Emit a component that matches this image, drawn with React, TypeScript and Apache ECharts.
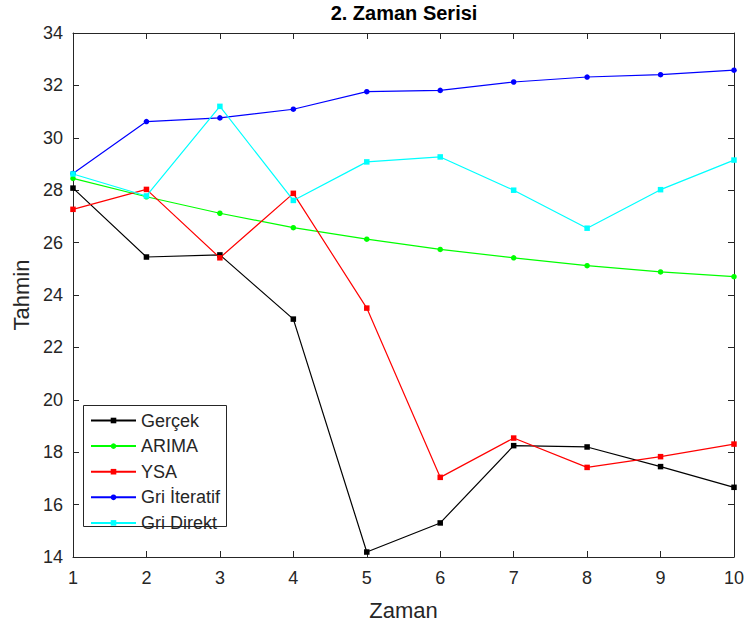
import React, { useEffect, useRef } from "react";
import * as echarts from "echarts";

const xValues = [1, 2, 3, 4, 5, 6, 7, 8, 9, 10];
const gercek = [28.08, 25.45, 25.53, 23.08, 14.19, 15.3, 18.25, 18.2, 17.45, 16.66];
const arima = [28.45, 27.75, 27.12, 26.57, 26.13, 25.74, 25.42, 25.12, 24.88, 24.7];
const ysa = [27.27, 28.03, 25.42, 27.88, 23.5, 17.04, 18.54, 17.42, 17.83, 18.31];
const griIteratif = [28.64, 30.62, 30.76, 31.09, 31.76, 31.81, 32.13, 32.32, 32.41, 32.58];
const griDirekt = [28.62, 27.78, 31.2, 27.61, 29.08, 29.27, 28.0, 26.55, 28.02, 29.15];

const seriesDefs = [
  { name: "Gerçek", data: gercek, color: "#000000", symbol: "rect" },
  { name: "ARIMA", data: arima, color: "#00ff00", symbol: "circle" },
  { name: "YSA", data: ysa, color: "#ff0000", symbol: "rect" },
  { name: "Gri İteratif", data: griIteratif, color: "#0000ff", symbol: "circle" },
  { name: "Gri Direkt", data: griDirekt, color: "#00ffff", symbol: "rect" },
];

const FONT = "'Liberation Sans', Arial, Helvetica, sans-serif";
const AXIS_COLOR = "#262626";

export default function App() {
  const ref = useRef<HTMLDivElement>(null);
  useEffect(() => {
    if (!ref.current) return;
    const chart = echarts.init(ref.current, null, { renderer: "svg" });
    const axisCommon = {
      type: "value",
      axisLine: { show: true, lineStyle: { color: AXIS_COLOR, width: 1 } },
      axisTick: { show: true, inside: true, length: 6, lineStyle: { color: AXIS_COLOR } },
      splitLine: { show: false },
    };
    chart.setOption({
      animation: false,
      backgroundColor: "#ffffff",
      textStyle: { fontFamily: FONT },
      title: {
        text: "2. Zaman Serisi",
        left: 404,
        textAlign: "center",
        top: 3,
        padding: 0,
        textStyle: { fontSize: 20, fontWeight: "bold", color: "#000", fontFamily: FONT },
      },
      graphic: [
        {
          type: "rect",
          shape: { x: 83.5, y: 405.5, width: 143, height: 121 },
          style: { fill: "#ffffff", stroke: "#262626", lineWidth: 1 },
          z: 100,
        },
      ],
      grid: { left: 73, right: 14, top: 33, bottom: 70, containLabel: false },
      legend: {
        orient: "vertical",
        left: 90,
        top: 411.5,
        itemWidth: 45,
        itemHeight: 7,
        itemGap: 7.6,
        padding: 0,
        z: 110,
        textStyle: { fontSize: 18, lineHeight: 18, color: "#262626", fontFamily: FONT },
        data: seriesDefs.map((s) => s.name),
      },
      xAxis: [
        {
          ...axisCommon,
          position: "bottom",
          min: 1,
          max: 10,
          interval: 1,
          name: "Zaman",
          nameLocation: "middle",
          nameGap: 42,
          nameTextStyle: { fontSize: 22, color: "#262626", fontFamily: FONT },
          axisLabel: { fontSize: 18, color: "#262626", margin: 12, fontFamily: FONT },
        },
        {
          ...axisCommon,
          position: "top",
          min: 1,
          max: 10,
          interval: 1,
          axisLabel: { show: false },
        },
      ],
      yAxis: [
        {
          ...axisCommon,
          position: "left",
          min: 14,
          max: 34,
          interval: 2,
          name: "Tahmin",
          nameLocation: "middle",
          nameGap: 40,
          nameTextStyle: { fontSize: 22, color: "#262626", fontFamily: FONT },
          axisLabel: { fontSize: 18, color: "#262626", margin: 10, fontFamily: FONT },
        },
        {
          ...axisCommon,
          position: "right",
          min: 14,
          max: 34,
          interval: 2,
          axisLabel: { show: false },
        },
      ],
      series: seriesDefs.map((s) => ({
        name: s.name,
        type: "line",
        data: s.data.map((v, i) => [xValues[i], v]),
        symbol: s.symbol,
        symbolSize: 5.5,
        showAllSymbol: true,
        lineStyle: { color: s.color, width: 1.2 },
        itemStyle: { color: s.color, borderWidth: 0 },
        emphasis: { disabled: true },
      })),
    });
    return () => chart.dispose();
  }, []);
  return <div ref={ref} style={{ width: 748, height: 627, position: "absolute", left: 0, top: 0 }} />;
}
